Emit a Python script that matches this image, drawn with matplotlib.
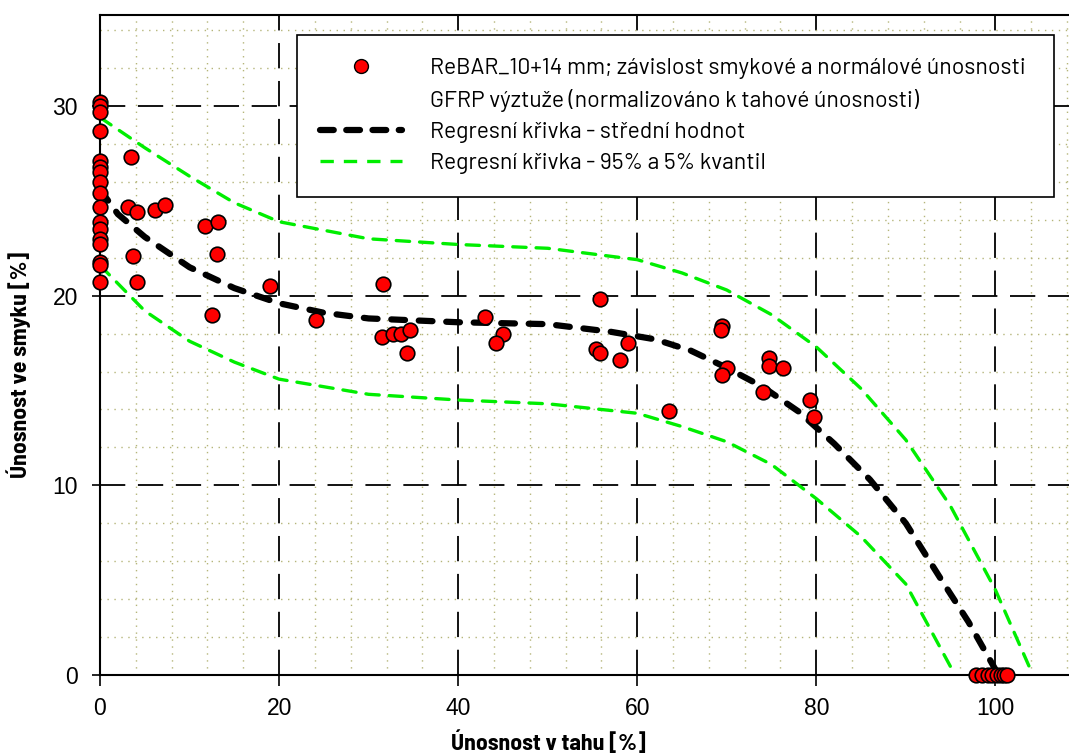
import matplotlib.pyplot as plt
from matplotlib.lines import Line2D
from matplotlib.ticker import MultipleLocator

# measured points (tension capacity %, shear capacity %)
x_pts = [0, 0, 0, 0, 0, 0, 0, 0, 0, 0, 0, 0, 0, 0, 0, 0, 0,
         3.5, 3.1, 4.1, 3.7, 4.1, 6.1, 7.3, 11.7, 13.2, 13.1, 12.5, 19.0,
         24.1, 31.6, 31.5, 32.7, 33.6, 34.6, 34.3, 43.0, 45.0, 44.2,
         55.8, 55.4, 55.8, 58.1, 59.0, 63.5, 69.5, 69.4, 70.0, 69.5,
         74.7, 74.7, 76.3, 74.1, 79.3, 79.8,
         97.8, 98.5, 99.2, 99.6, 100.2, 100.6, 101.0, 101.3]
y_pts = [30.2, 30.0, 29.7, 28.7, 27.1, 26.8, 26.5, 26.0, 25.4, 24.7, 23.9,
         23.5, 23.0, 22.7, 21.8, 21.6, 20.7,
         27.3, 24.7, 24.4, 22.1, 20.7, 24.5, 24.8, 23.7, 23.9, 22.2, 19.0, 20.5,
         18.7, 20.6, 17.8, 18.0, 18.0, 18.2, 17.0, 18.9, 18.0, 17.5,
         19.8, 17.2, 17.0, 16.6, 17.5, 13.9, 18.4, 18.2, 16.2, 15.8,
         16.7, 16.3, 16.2, 14.9, 14.5, 13.6,
         0, 0, 0, 0, 0, 0, 0, 0]

# regression curves
x_mean = [0, 2, 5, 10, 15, 20, 25, 30, 40, 50, 57, 62, 66, 70, 74, 78, 82, 86, 90, 94, 97, 100]
y_mean = [25.6, 24.3, 23.1, 21.5, 20.4, 19.6, 19.1, 18.8, 18.6, 18.5, 18.1, 17.7, 17.1, 16.2, 15.2, 13.9, 12.2, 10.3, 8.0, 5.0, 2.8, 0.3]

x_up = [0, 5, 10, 15, 20, 30, 40, 50, 60, 65, 70, 75, 80, 85, 90, 95, 100, 104.2]
y_up = [29.4, 27.8, 26.3, 24.9, 23.9, 23.0, 22.7, 22.5, 21.9, 21.2, 20.3, 19.0, 17.3, 15.1, 12.4, 8.9, 4.5, 0]

x_lo = [0, 5, 10, 15, 20, 30, 40, 50, 60, 65, 70, 75, 80, 85, 90, 95.5]
y_lo = [21.6, 19.2, 17.6, 16.5, 15.6, 14.8, 14.5, 14.3, 13.8, 13.1, 12.3, 11.1, 9.3, 7.3, 4.8, 0]

COND = ['Barlow Semi Condensed', 'DejaVu Sans']
LEGF = ['Barlow', 'DejaVu Sans']

fig = plt.figure(figsize=(10.69, 7.56), dpi=100)
ax = fig.add_axes([100 / 1069, 81 / 756, 975 / 1069, 660 / 756])
ax.set_xlim(0, 108.9)
ax.set_ylim(0, 34.8)

ax.xaxis.set_major_locator(MultipleLocator(20))
ax.xaxis.set_minor_locator(MultipleLocator(4))
ax.yaxis.set_major_locator(MultipleLocator(10))
ax.yaxis.set_minor_locator(MultipleLocator(2))
ax.grid(which='major', color='black', linestyle=(0, (14, 7)), linewidth=1.3)
ax.grid(which='minor', color='#b5b57a', linestyle=(0, (1, 4)), linewidth=1.0)
ax.set_axisbelow(True)
ax.tick_params(which='minor', length=0)
ax.tick_params(axis='x', which='major', direction='out', length=8, width=1.2, labelsize=16.5, pad=8)
ax.tick_params(axis='y', which='major', direction='out', length=6, width=1.2, labelsize=16.5, pad=10)
ax.spines['right'].set_visible(False)
for s in ['left', 'bottom', 'top']:
    ax.spines[s].set_linewidth(1.5)

ax.plot(x_up, y_up, color='#00ee00', linestyle=(0, (4, 3)), linewidth=2.4, dash_capstyle='round')
ax.plot(x_lo, y_lo, color='#00ee00', linestyle=(0, (4, 3)), linewidth=2.4, dash_capstyle='round')
ax.plot(x_mean, y_mean, color='black', linestyle=(0, (2.2, 2.2)), linewidth=4.5, dash_capstyle='round')
ax.plot(x_pts, y_pts, linestyle='none', marker='o', markersize=10.5,
        markerfacecolor='red', markeredgecolor='black', markeredgewidth=1.2, clip_on=False, zorder=5)

ax.set_xlabel('Únosnost v tahu [%]', fontsize=17, fontweight='bold', family=COND)
ax.set_ylabel('Únosnost ve smyku [%]', fontsize=17, fontweight='bold', family=COND)
ax.xaxis.set_label_coords(0.46, -0.083)
ax.yaxis.set_label_coords(-0.071, 0.47)
for lab in ax.get_xticklabels() + ax.get_yticklabels():
    lab.set_family(['Liberation Sans', 'DejaVu Sans'])

handles = [
    Line2D([], [], linestyle='none', marker='o', markersize=10, markerfacecolor='red',
           markeredgecolor='black'),
    Line2D([], [], linestyle='none'),
    Line2D([], [], color='black', linestyle=(0, (2.2, 2.0)), linewidth=4.5, dash_capstyle='round'),
    Line2D([], [], color='#00ee00', linestyle=(0, (4, 3)), linewidth=2.4),
]
labels = [
    'ReBAR_10+14 mm; závislost smykové a normálové únosnosti',
    'GFRP výztuže (normalizováno k tahové únosnosti)',
    'Regresní křivka - střední hodnot',
    'Regresní křivka - 95% a 5% kvantil',
]
leg = ax.legend(handles, labels, loc='upper left', mode='expand',
                bbox_to_anchor=(197 / 975, 0.724, 757 / 975, (640 - 478) / 660), borderaxespad=0,
                frameon=True, fancybox=False, edgecolor='black', framealpha=1,
                prop={'family': LEGF, 'size': 16.5},
                handlelength=3.6, borderpad=1.0, labelspacing=0.43, handletextpad=1.2)
leg.get_frame().set_linewidth(1.2)

fig.savefig('out.png', dpi=100)
